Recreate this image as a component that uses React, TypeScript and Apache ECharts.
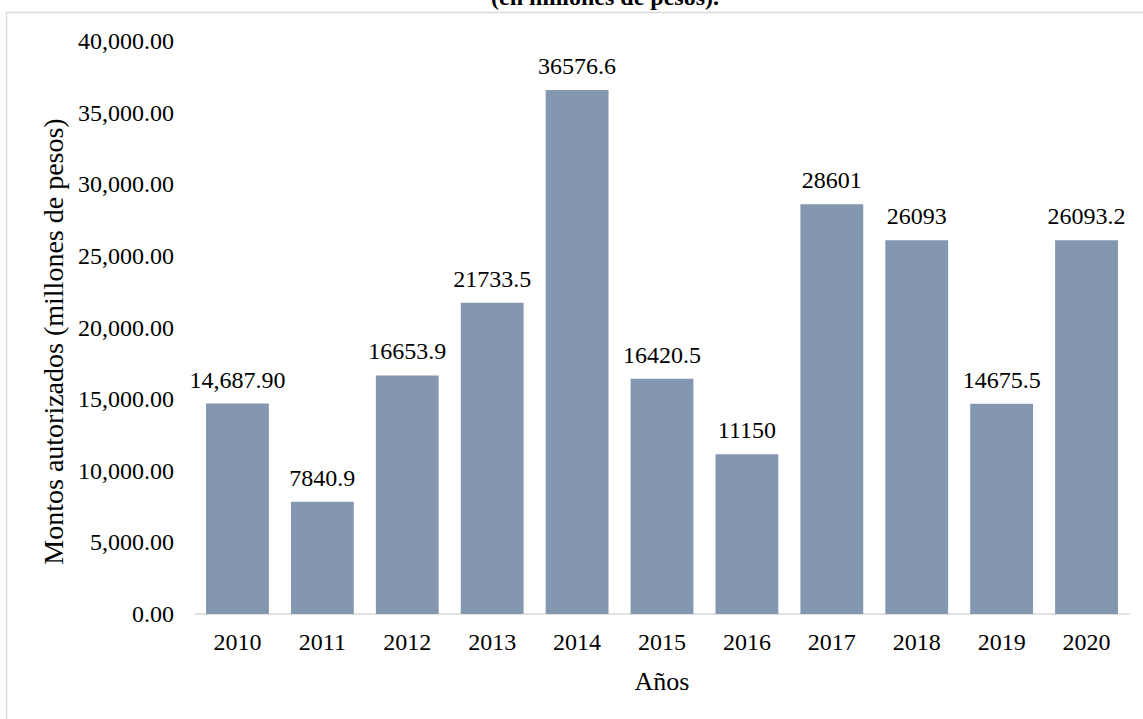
import React, { useEffect, useRef } from "react";
import * as echarts from "echarts";

const years = ["2010", "2011", "2012", "2013", "2014", "2015", "2016", "2017", "2018", "2019", "2020"];
const amounts = [14687.9, 7840.9, 16653.9, 21733.5, 36576.6, 16420.5, 11150, 28601, 26093, 14675.5, 26093.2];
const valueLabels = ["14,687.90", "7840.9", "16653.9", "21733.5", "36576.6", "16420.5", "11150", "28601", "26093", "14675.5", "26093.2"];
const titleText = "(en millones de pesos).";
const yAxisName = "Montos autorizados (millones de pesos)";
const xAxisName = "Años";

const FONT = "'Liberation Serif', 'Times New Roman', serif";

export default function App() {
  const ref = useRef<HTMLDivElement>(null);
  useEffect(() => {
    if (!ref.current) return;
    const chart = echarts.init(ref.current, null, { renderer: "svg" });
    chart.setOption({
      animation: false,
      backgroundColor: "#ffffff",
      textStyle: { fontFamily: FONT },
      graphic: [
        {
          type: "rect",
          shape: { x: 6.5, y: 12.5, width: 1300, height: 900 },
          style: { fill: "none", stroke: "#d9d9d9", lineWidth: 1.5 },
          silent: true,
        },
        {
          type: "text",
          x: 605,
          y: 9,
          style: {
            text: titleText,
            font: `bold 24px ${FONT}`,
            fill: "#000000",
            textAlign: "center",
            textVerticalAlign: "bottom",
          },
        },
      ],
      grid: { left: 195, right: 14, top: 41, bottom: 105, containLabel: false },
      xAxis: {
        type: "category",
        data: years,
        name: xAxisName,
        nameLocation: "middle",
        nameGap: 54,
        nameTextStyle: { fontSize: 26, color: "#000", fontFamily: FONT },
        axisLine: { show: true, lineStyle: { color: "#d9d9d9", width: 1.5 } },
        axisTick: { show: false },
        axisLabel: { fontSize: 24, color: "#000", margin: 16, fontFamily: FONT },
      },
      yAxis: {
        type: "value",
        min: 0,
        max: 40000,
        interval: 5000,
        name: yAxisName,
        nameLocation: "middle",
        nameGap: 128,
        nameTextStyle: { fontSize: 28, color: "#000", fontFamily: FONT, padding: [0, 28, 0, 0] },
        axisLine: { show: false },
        axisTick: { show: false },
        splitLine: { show: false },
        axisLabel: {
          fontSize: 24,
          color: "#000",
          margin: 21,
          fontFamily: FONT,
          formatter: (v: number) =>
            v.toLocaleString("en-US", { minimumFractionDigits: 2, maximumFractionDigits: 2 }),
        },
      },
      series: [
        {
          type: "bar",
          data: amounts,
          barCategoryGap: "26%",
          itemStyle: { color: "#8497B0" },
          label: {
            show: true,
            position: "top",
            distance: 12,
            fontSize: 24,
            color: "#000",
            fontFamily: FONT,
            formatter: (p: any) => valueLabels[p.dataIndex],
          },
        },
      ],
    });
    return () => chart.dispose();
  }, []);
  return (
    <div
      ref={ref}
      style={{ position: "fixed", left: 0, top: 0, width: 1143, height: 719 }}
    />
  );
}
